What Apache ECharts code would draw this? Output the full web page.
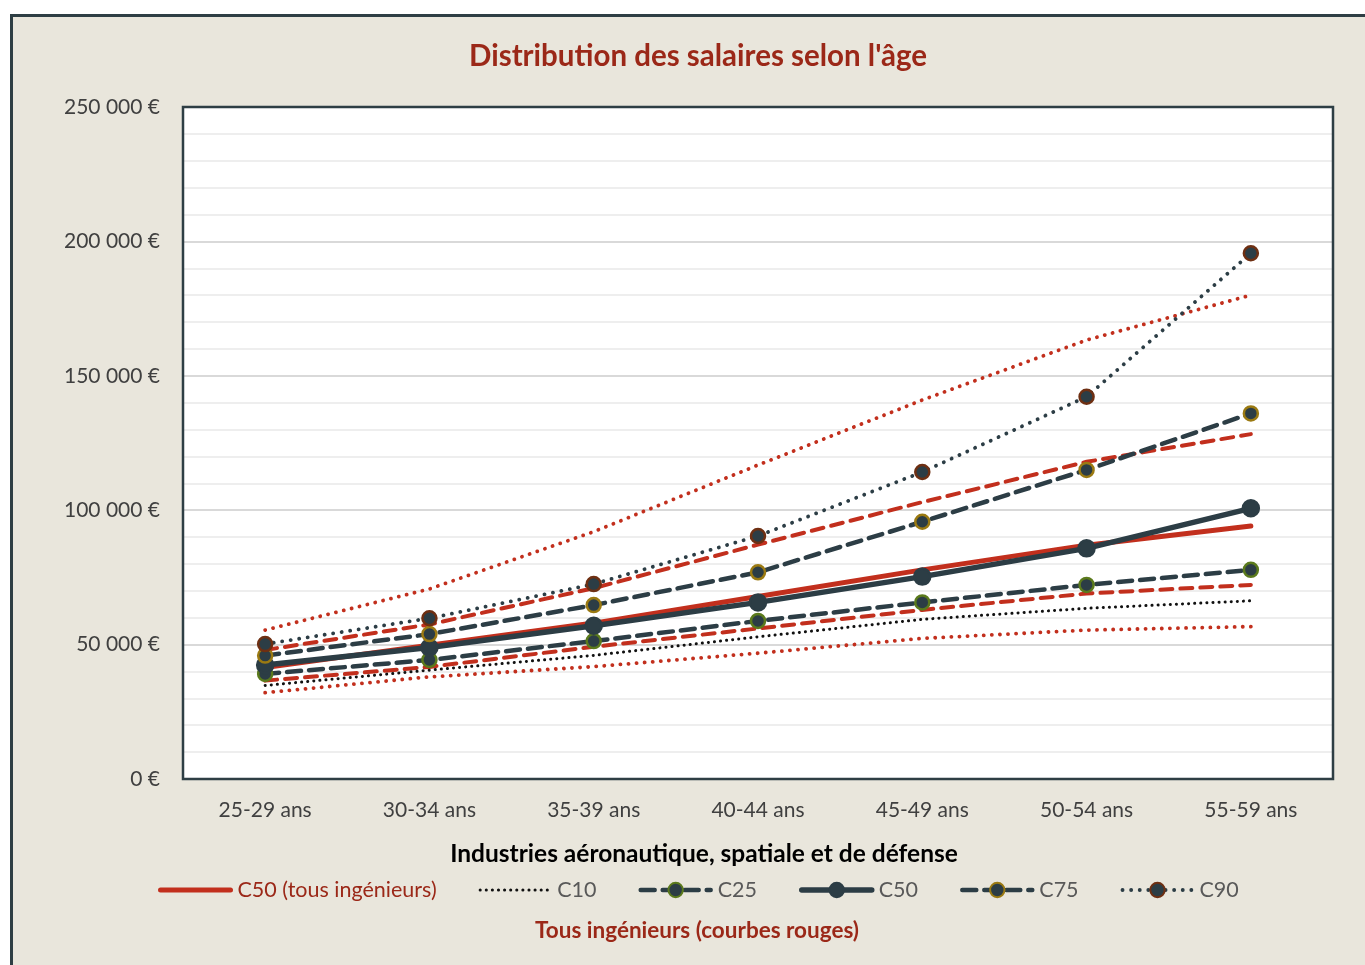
<!DOCTYPE html>
<html>
<head>
<meta charset="utf-8">
<title>Distribution des salaires selon l'âge</title>
<script src="https://cdn.jsdelivr.net/npm/echarts@6/dist/echarts.min.js"></script>
<style>
  html, body { margin: 0; padding: 0; background: #fff; }
  #chart { width: 1365px; height: 965px; }
</style>
</head>
<body>
<div id="chart"></div>
<script>
// tranches d'age
var ages = ['25-29 ans', '30-34 ans', '35-39 ans', '40-44 ans', '45-49 ans', '50-54 ans', '55-59 ans'];

// industries aeronautique, spatiale et de defense
var aeroC10 = [34800, 40500, 46000, 52900, 59400, 63500, 66300];
var aeroC25 = [39100, 44300, 51300, 58800, 65700, 72200, 77800];
var aeroC50 = [42400, 48900, 57000, 65700, 75300, 85800, 100700];
var aeroC75 = [45900, 53900, 64700, 76900, 95700, 115000, 136000];
var aeroC90 = [50200, 59800, 72500, 90400, 114200, 142200, 195600];

// tous ingenieurs (courbes rouges)
var allC10 = [32100, 38000, 41800, 46800, 52300, 55400, 56700];
var allC25 = [36600, 41700, 49200, 56000, 62900, 69000, 72200];
var allC50 = [41500, 49800, 58000, 67900, 77800, 87000, 94100];
var allC75 = [48000, 57500, 71000, 87200, 103000, 118000, 128300];
var allC90 = [55400, 70700, 92000, 116800, 141000, 163300, 180000];

var yTicks = [0, 50000, 100000, 150000, 200000, 250000];

var RED = '#c22f1d';
var DARK = '#2c3d45';

// courbe rouge sans marqueur
var redLine = function (name, data, type, width) {
  return {
    name: name,
    type: 'line',
    data: data,
    symbol: 'none',
    z: 2,
    lineStyle: { color: RED, width: width, type: type, cap: 'round' },
    itemStyle: { color: RED }
  };
};

// courbe industrie avec marqueurs
var darkLine = function (name, data, type, width, border, size) {
  return {
    name: name,
    type: 'line',
    data: data,
    symbol: 'circle',
    symbolSize: size,
    z: 3,
    lineStyle: { color: DARK, width: width, type: type, cap: 'round' },
    itemStyle: { color: DARK, borderColor: border, borderWidth: 2.5 }
  };
};

var chart = echarts.init(document.getElementById('chart'));

chart.setOption({
  animation: false,
  textStyle: { fontFamily: 'Lato' },
  graphic: [{
    type: 'rect',
    z: -10,
    shape: { x: 11.5, y: 15.5, width: 1420, height: 1000 },
    style: { fill: '#e9e6dc', stroke: '#2e3e44', lineWidth: 3 }
  }, {
    // cadre de la zone de tracé
    type: 'rect',
    z: 100,
    silent: true,
    shape: { x: 183, y: 107, width: 1150, height: 672 },
    style: { fill: null, stroke: '#2e3e44', lineWidth: 2.5 }
  }],
  title: [{
    text: "Distribution des salaires selon l'âge",
    left: 693,
    textAlign: 'center',
    top: 36,
    textStyle: { color: '#9b2818', fontSize: 29.5, fontWeight: 'bold', fontFamily: 'Lato' }
  }, {
    text: 'Industries aéronautique, spatiale et de défense',
    left: 699,
    textAlign: 'center',
    top: 837,
    textStyle: { color: '#000', fontSize: 24.5, fontWeight: 'bold', fontFamily: 'Lato' }
  }, {
    text: 'Tous ingénieurs (courbes rouges)',
    left: 692,
    textAlign: 'center',
    top: 914,
    textStyle: { color: '#9b2818', fontSize: 22.5, fontWeight: 'bold', fontFamily: 'Lato' }
  }],
  legend: {
    top: 879,
    left: 158,
    padding: 0,
    itemWidth: 70,
    itemHeight: 18,
    itemGap: 42,
    lineStyle: { width: 'inherit' },
    textStyle: { color: '#595959', fontSize: 21.5, fontFamily: 'Lato', padding: [0, 0, 0, 2] },
    data: [
      { name: 'C50 (tous ingénieurs)', textStyle: { color: '#9b2818' }, itemStyle: { opacity: 0 } },
      { name: 'C10', itemStyle: { opacity: 0 } },
      'C25', 'C50', 'C75', 'C90'
    ]
  },
  grid: {
    left: 183,
    right: 32,
    top: 107,
    bottom: 186,
    show: true,
    backgroundColor: '#fff',
    borderWidth: 0
  },
  xAxis: {
    type: 'category',
    data: ages,
    boundaryGap: true,
    axisLine: { show: false },
    axisTick: { show: false },
    axisLabel: { color: '#404040', fontSize: 21, margin: 21 }
  },
  yAxis: {
    type: 'value',
    min: 0,
    max: 250000,
    interval: 10000,
    axisLine: { show: false },
    axisTick: { show: false },
    axisLabel: {
      color: '#404040',
      fontSize: 21,
      margin: 23,
      formatter: function (v) {
        if (yTicks.indexOf(v) < 0) return '';
        return v === 0 ? '0 €' : (v / 1000) + ' 000 €';
      }
    },
    splitLine: {
      lineStyle: {
        color: ['#d9d9d9', '#eeeeee', '#eeeeee', '#eeeeee', '#eeeeee'],
        width: 2
      }
    }
  },
  series: [
    redLine('C10 (tous ingénieurs)', allC10, [0.1, 8], 3.8),
    redLine('C25 (tous ingénieurs)', allC25, [12, 8], 4),
    redLine('C50 (tous ingénieurs)', allC50, 'solid', 5),
    redLine('C75 (tous ingénieurs)', allC75, [12, 8], 4),
    redLine('C90 (tous ingénieurs)', allC90, [0.1, 8], 3.8),
    {
      name: 'C10',
      type: 'line',
      data: aeroC10,
      symbol: 'none',
      z: 3,
      lineStyle: { color: '#111', width: 3, type: [0.1, 6], cap: 'round' },
      itemStyle: { color: '#111' }
    },
    darkLine('C25', aeroC25, [14, 8], 4.5, '#5b7a1c', 14),
    darkLine('C50', aeroC50, 'solid', 5.5, DARK, 16),
    darkLine('C75', aeroC75, [14, 8], 4.5, '#9b7a12', 14),
    darkLine('C90', aeroC90, [0.1, 8.5], 3.8, '#6e2f12', 14)
  ]
});
</script>
</body>
</html>
